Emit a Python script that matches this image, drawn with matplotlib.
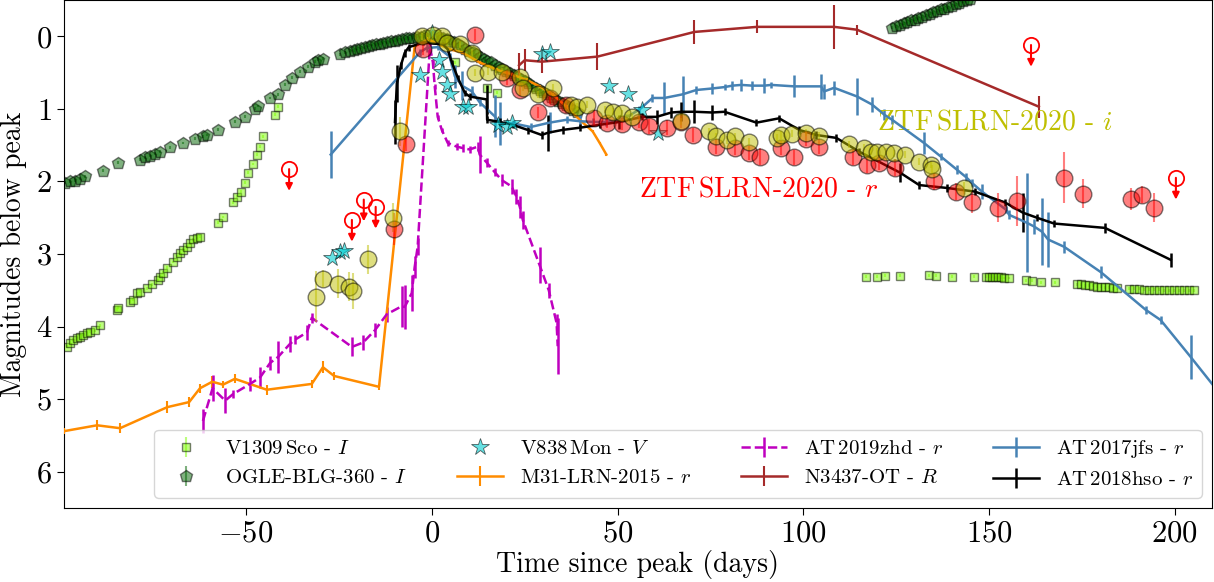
import numpy as np
import matplotlib.pyplot as plt

plt.rcParams['font.family'] = 'serif'
plt.rcParams['font.serif'] = ['cmr10']
plt.rcParams['mathtext.fontset'] = 'cm'
plt.rcParams['axes.formatter.use_mathtext'] = True

# ---------------- data (days since peak, mag below peak) ----------------
ogle_t = [-98.7, -97.3, -96.0, -94.6, -93.3, -88.4, -84.4, -78.5, -77.2, -75.8,
          -74.5, -73.1, -70.4, -66.9, -63.7, -61.6, -60.5, -57.5, -53.0, -50.3,
          -47.6, -46.8, -43.5, -41.4, -39.5, -37.6, -35.5, -33.3, -31.5, -30.6,
          -29.3, -24.7, -23.4,
          -22, -21, -20, -19, -18, -17, -16, -15, -14, -13, -12, -11, -10, -9,
          -8, -7, -6, -5, -4, -3, -2, -1, 0,
          1, 2, 3, 4, 5, 6, 7, 8, 9, 10, 11, 12, 13, 14, 15, 16, 17, 18, 19, 20,
          21, 22, 23, 24, 25, 26, 27, 28, 29, 30, 31, 32, 33, 34, 35, 36, 37, 38, 39,
          124, 125, 126, 127, 128, 129, 130, 131, 132, 133, 134, 135, 136, 137,
          138, 139, 140, 141, 142, 143, 144, 145]
ogle_m = [2.02, 2.00, 1.99, 1.96, 1.93, 1.85, 1.74, 1.70, 1.67, 1.65,
          1.62, 1.59, 1.53, 1.47, 1.41, 1.38, 1.36, 1.29, 1.18, 1.11,
          1.00, 0.96, 0.85, 0.80, 0.67, 0.57, 0.49, 0.42, 0.35, 0.32,
          0.31, 0.25, 0.22,
          0.20, 0.19, 0.17, 0.16, 0.15, 0.13, 0.12, 0.11, 0.10, 0.09, 0.08, 0.07,
          0.06, 0.05, 0.04, 0.03, 0.03, 0.02, 0.01, 0.01, 0.00, 0.00, 0.00,
          0.00, 0.01, 0.02, 0.04, 0.06, 0.08, 0.11, 0.14, 0.17, 0.20, 0.22, 0.25,
          0.28, 0.31, 0.34, 0.36, 0.39, 0.42, 0.45, 0.48, 0.50, 0.53, 0.56, 0.59,
          0.62, 0.65, 0.68, 0.71, 0.74, 0.77, 0.80, 0.83, 0.86, 0.89, 0.92, 0.95,
          0.98, 1.01, 1.04,
          -0.12, -0.14, -0.16, -0.18, -0.20, -0.22, -0.23, -0.25, -0.27, -0.29,
          -0.31, -0.33, -0.35, -0.37, -0.38, -0.40, -0.42, -0.44, -0.46, -0.48,
          -0.50, -0.52]

v1309_t = [-98.1, -97.3, -96.5, -95.4, -94.6, -93.8, -92.7, -91.9, -90.6, -89.2,
           -84.7, -84.4, -81.2, -80.4, -79.3, -78.5, -76.6, -75.3, -73.7, -73.1,
           -72.3, -71.2, -69.6, -68.5, -67.7, -66.9, -65.9, -65.1, -64.2, -63.2,
           -62.4, -57.5, -56.2, -53.5, -52.4, -51.3, -50.3, -49.5, -48.1, -47.0,
           -46.2, -45.4, -42.2, -41.4,
           6.2, 14.8, 17.5,
           116.9, 119.9, 122.0, 126.1, 133.9, 135.8, 140.1, 146.0,
           149.2, 150.0, 150.8, 151.6, 152.4, 153.2, 154.0, 155.4,
           159.9, 161.6, 164.0, 167.7,
           173.7, 174.7, 175.8, 176.9, 178.0, 179.0, 180.1, 181.2, 182.3, 183.3, 184.4,
           187.6, 189.0, 190.3, 191.7, 193.0, 194.4, 195.7, 197.1, 198.4, 199.8,
           201.1, 202.5, 203.8, 205.1]
v1309_m = [4.28, 4.22, 4.18, 4.16, 4.14, 4.11, 4.09, 4.07, 4.05, 3.98,
           3.77, 3.74, 3.66, 3.63, 3.54, 3.52, 3.47, 3.42, 3.36, 3.31,
           3.26, 3.19, 3.11, 3.04, 2.98, 2.94, 2.90, 2.85, 2.80, 2.78,
           2.76, 2.57, 2.49, 2.29, 2.21, 2.14, 2.02, 1.88, 1.76, 1.63,
           1.52, 1.38, 1.08, 0.97,
           0.36, 0.71, 0.78,
           3.31, 3.31, 3.30, 3.30, 3.29, 3.30, 3.31, 3.31,
           3.31, 3.31, 3.31, 3.32, 3.32, 3.32, 3.33, 3.33,
           3.36, 3.37, 3.39, 3.39,
           3.42, 3.42, 3.43, 3.43, 3.44, 3.45, 3.45, 3.46, 3.46, 3.47, 3.47,
           3.48, 3.48, 3.48, 3.49, 3.49, 3.49, 3.49, 3.50, 3.50, 3.50,
           3.50, 3.50, 3.50, 3.50]

v838_t = [-26.9, -24.7, -23.7, -3.2, 0.0, 1.9, 2.7, 4.0, 4.8, 8.3, 9.7, 17.7,
          20.2, 21.5, 29.8, 31.7, 47.8, 52.7, 56.7, 60.8]
v838_m = [3.05, 2.97, 2.96, 0.53, -0.05, 0.32, 0.49, 0.67, 0.79, 0.98, 0.97,
          1.22, 1.25, 1.20, 0.25, 0.22, 0.69, 0.80, 1.01, 1.33]

m31_t = [-98.9, -90.1, -83.9, -71.2, -65.3, -62.4, -59.1, -56.2, -53.0, -44.4,
         -32.3, -29.3, -26.3, -14.2, -4.6, -1.0, 4.8, 8.1, 12.9, 17.5, 21.8,
         25.5, 29.0, 32.5, 36.3, 39.8, 43.3, 45.2, 47.0]
m31_m = [5.44, 5.36, 5.40, 5.11, 5.04, 4.85, 4.76, 4.80, 4.72, 4.87,
         4.79, 4.56, 4.68, 4.83, 0.14, 0.04, 0.18, 0.22, 0.36, 0.46, 0.53,
         0.60, 0.69, 0.80, 0.97, 1.15, 1.31, 1.47, 1.63]
m31_e = [0.04, 0.07, 0.07, 0.08, 0.07, 0.06, 0.08, 0.05, 0.06, 0.07,
         0.06, 0.08, 0.05, 0.04, 0.03, 0.03, 0.02, 0.02, 0.02, 0.02, 0.02,
         0.02, 0.02, 0.02, 0.02, 0.02, 0.02, 0.02, 0.02]

zhd_t = [-61.6, -59.0, -55.6, -53.5, -48.9, -46.2, -43.5, -41.4, -38.2, -36.8,
         -33.6, -32.3, -21.5, -18.5, -15.3, -12.1, -8.1, -7.3, -5.4, -4.6,
         -3.8, -0.5, 0.3, 0.8, 1.6, 2.7, 4.3, 6.7, 8.3, 10.2, 12.4, 12.9,
         14.8, 16.9, 18.8, 21.5, 22.8, 23.7, 24.5, 29.0, 31.5, 33.6, 33.9]
zhd_m = [5.30, 4.85, 5.02, 4.93, 4.79, 4.70, 4.50, 4.42, 4.24, 4.18,
         4.08, 3.88, 4.28, 4.22, 4.05, 3.83, 3.72, 3.73, 3.54, 3.18,
         2.90, 0.14, 0.36, 0.69, 1.11, 1.29, 1.47, 1.52, 1.54, 1.56, 1.52, 1.63,
         1.74, 1.87, 1.98, 2.07, 2.21, 2.35, 2.53, 3.15, 3.50, 3.95, 4.27]
zhd_e = [0.17, 0.18, 0.17, 0.06, 0.10, 0.14, 0.10, 0.22, 0.11, 0.06,
         0.10, 0.07, 0.13, 0.10, 0.10, 0.10, 0.28, 0.30, 0.25, 0.15,
         0.12, 0.05, 0.03, 0.03, 0.03, 0.03, 0.04, 0.05, 0.05, 0.05, 0.06, 0.25,
         0.06, 0.06, 0.08, 0.10, 0.10, 0.15, 0.12, 0.25, 0.10, 0.12, 0.39]

n3437_t = [23.5, 25.0, 29.6, 44.6, 70.7, 87.6, 108.3, 114.5, 163.4]
n3437_m = [0.40, 0.33, 0.35, 0.28, -0.06, -0.13, -0.13, -0.09, 0.97]
n3437_e = [0.17, 0.15, 0.16, 0.19, 0.17, 0.09, 0.30, 0.07, 0.15]

jfs_t = [-27.2, -3.2, -1.3, 1.6, 4.8, 6.2, 8.1, 10.8, 12.9, 16.9, 18.3, 22.0,
         26.6, 31.7, 36.3, 39.8, 43.3, 47.0, 52.2, 55.9, 59.4, 62.6, 67.5,
         71.2, 75.3, 78.8, 80.9, 83.3, 86.3, 89.5, 91.4, 97.6, 104.8, 105.6,
         108.3, 114.5, 118.5, 121.8, 123.9, 132.5, 137.1, 141.4, 143.8, 145.4,
         148.1, 154.6, 155.4, 160.2, 162.1, 164.2, 165.9, 170.2, 180.1, 192.2,
         196.2, 204.3, 213.0]
jfs_m = [1.63, 0.22, 0.16, 0.15, 0.28, 0.55, 0.68, 0.76, 0.91, 1.10, 1.20, 1.20,
         1.25, 1.19, 1.15, 1.17, 1.18, 1.18, 1.12, 1.01, 0.85, 0.85, 0.80,
         0.74, 0.72, 0.70, 0.68, 0.67, 0.68, 0.68, 0.67, 0.69, 0.69, 0.76,
         0.71, 0.83, 0.94, 1.08, 1.15, 1.47, 1.66, 1.84, 1.94, 2.02,
         2.14, 2.39, 2.46, 2.57, 2.62, 2.69, 2.80, 2.90, 3.25, 3.77,
         3.91, 4.42, 4.98]
jfs_e = [0.32, 0.05, 0.05, 0.04, 0.05, 0.16, 0.20, 0.08, 0.05, 0.29, 0.30, 0.05,
         0.05, 0.14, 0.05, 0.08, 0.05, 0.05, 0.05, 0.05, 0.05, 0.22, 0.25,
         0.05, 0.07, 0.04, 0.06, 0.08, 0.06, 0.10, 0.04, 0.15, 0.17, 0.10,
         0.10, 0.25, 0.10, 0.08, 0.06, 0.15, 0.05, 0.06, 0.06, 0.05,
         0.10, 0.05, 0.06, 0.68, 0.10, 0.46, 0.38, 0.08, 0.08, 0.06,
         0.06, 0.30, 0.10]

hso_t = [-9.9, -9.4, -8.3, -7.3, -6.2, -2.4, 3.0, 4.3, 5.4, 7.0, 8.9, 10.2,
         14.8, 14.9, 18.3, 21.8, 25.8, 29.6, 31.2, 35.2, 39.8, 45.2, 50.5,
         56.7, 60.5, 64.5, 67.2, 70.7, 75.5, 78.8, 87.4, 93.5, 98.9, 103.5,
         108.9, 115.1, 126.1, 131.2, 138.7, 146.2, 154.3, 159.1, 162.9, 167.5,
         181.2, 198.9]
hso_m = [1.18, 0.65, 0.40, 0.23, 0.15, 0.09, 0.11, 0.18, 0.36, 0.57, 0.78, 0.83,
         0.87, 1.15, 1.18, 1.22, 1.29, 1.36, 1.33, 1.29, 1.26, 1.22, 1.18,
         1.11, 1.11, 1.05, 1.04, 1.04, 1.05, 1.04, 1.19, 1.13, 1.29, 1.36,
         1.40, 1.59, 1.88, 2.05, 2.09, 2.14, 2.29, 2.43, 2.50, 2.58,
         2.64, 3.08]
hso_e = [0.30, 0.25, 0.05, 0.05, 0.05, 0.03, 0.03, 0.03, 0.04, 0.04, 0.04, 0.05,
         0.20, 0.05, 0.05, 0.05, 0.05, 0.05, 0.25, 0.05, 0.05, 0.05, 0.10,
         0.05, 0.10, 0.07, 0.13, 0.16, 0.10, 0.05, 0.05, 0.05, 0.05, 0.05,
         0.05, 0.05, 0.13, 0.05, 0.05, 0.05, 0.05, 0.27, 0.05, 0.05,
         0.07, 0.10]

ztf_r_t = [-10.2, -6.9, -2.4, 11.6, 20.2, 23.7, 28.5, 31.7, 36.0, 43.8, 47.3,
           51.3, 55.9, 58.6, 63.4, 67.2, 70.3, 76.6, 81.5, 85.5, 88.4, 94.1,
           97.6, 100.8, 104.3, 113.5, 117.2, 120.4, 124.6, 135.2, 141.2, 145.4,
           152.3, 157.4, 170.3, 175.3, 188.3, 191.2, 194.5]
ztf_r_m = [2.65, 1.48, 0.18, -0.02, 0.57, 0.74, 1.05, 0.85, 0.95, 1.12, 1.19,
           1.21, 1.18, 1.24, 1.26, 1.18, 1.36, 1.52, 1.54, 1.61, 1.66, 1.54,
           1.67, 1.41, 1.52, 1.67, 1.77, 1.74, 1.81, 2.00, 2.14, 2.29,
           2.36, 2.27, 1.95, 2.17, 2.24, 2.18, 2.36]
ztf_r_e = [0.22, 0.10, 0.08, 0.08, 0.10, 0.08, 0.08, 0.08, 0.08, 0.10, 0.08,
           0.08, 0.08, 0.10, 0.10, 0.08, 0.10, 0.10, 0.10, 0.10, 0.12, 0.10,
           0.10, 0.10, 0.10, 0.10, 0.12, 0.10, 0.12, 0.12, 0.12, 0.15,
           0.20, 0.35, 0.35, 0.20, 0.15, 0.12, 0.20]

ztf_i_t = [-31.2, -29.3, -25.3, -22.3, -21.2, -17.2, -10.5, -8.6, -2.7, 0.3,
           2.7, 4.0, 7.5, 10.8, 11.6, 15.1, 18.8, 23.7, 24.5, 28.5, 32.5, 37.6,
           39.0, 41.9, 46.5, 48.7, 51.3, 53.8, 67.2, 74.7, 76.6, 79.6, 81.5,
           85.5, 93.0, 94.1, 97.0, 100.8, 104.3, 112.4, 116.4, 118.3, 119.9,
           122.3, 124.5, 127.4, 131.2, 134.4, 134.7, 143.3]
ztf_i_m = [3.59, 3.34, 3.41, 3.45, 3.51, 3.07, 2.50, 1.31, 0.00, -0.02,
           0.00, 0.09, 0.11, 0.23, 0.50, 0.49, 0.49, 0.56, 0.71, 0.80, 0.71, 0.94,
           0.97, 0.94, 1.01, 1.04, 1.06, 1.11, 1.17, 1.31, 1.38, 1.43, 1.38,
           1.45, 1.40, 1.36, 1.34, 1.33, 1.37, 1.49, 1.54, 1.59, 1.59,
           1.59, 1.61, 1.63, 1.73, 1.77, 1.83, 2.09]
ztf_i_e = [0.35, 0.12, 0.20, 0.20, 0.25, 0.20, 0.20, 0.20, 0.05, 0.05,
           0.05, 0.05, 0.05, 0.05, 0.05, 0.05, 0.05, 0.05, 0.05, 0.05, 0.05, 0.05,
           0.05, 0.05, 0.05, 0.05, 0.05, 0.05, 0.05, 0.05, 0.05, 0.05, 0.05,
           0.05, 0.05, 0.05, 0.05, 0.05, 0.05, 0.05, 0.05, 0.05, 0.05,
           0.05, 0.05, 0.05, 0.05, 0.05, 0.05, 0.08]

# ZTF r-band upper limits
ul_t = [-38.4, -21.5, -18.3, -15.1, 161.3, 200.3]
ul_m = [1.83, 2.53, 2.25, 2.35, 0.12, 1.95]

# ---------------- plot ----------------
fig = plt.figure(figsize=(12.14, 5.82), dpi=100)
ax = fig.add_axes([0.0527, 0.1271, 0.9456, 0.8729])

h_ogle = ax.errorbar(ogle_t, ogle_m, yerr=0.02, fmt='p', color='darkgreen', ms=9,
                     mec='k', alpha=0.5, zorder=1, label=r'OGLE-BLG-360 - $I$')
h_v1309 = ax.errorbar(v1309_t, v1309_m, yerr=0.02, fmt='s', color='lawngreen', ms=6,
                      mec='k', alpha=0.5, zorder=2, label=r'V1309$\,$Sco - $I$')

h_m31 = ax.errorbar(m31_t, m31_m, yerr=m31_e, fmt='-', color='darkorange', lw=1.8,
                    elinewidth=1.5, zorder=3, label=r'M31-LRN-2015 - $r$')
h_zhd = ax.errorbar(zhd_t, zhd_m, yerr=zhd_e, fmt='--', color='m', lw=1.8,
                    elinewidth=1.8, zorder=3, label=r'AT$\,$2019zhd - $r$')
h_n3437 = ax.errorbar(n3437_t, n3437_m, yerr=n3437_e, fmt='-', color='brown', lw=1.8,
                      elinewidth=1.5, zorder=3, label=r'N3437-OT - $R$')
h_jfs = ax.errorbar(jfs_t, jfs_m, yerr=jfs_e, fmt='-', color='steelblue', lw=1.8,
                    elinewidth=1.8, zorder=3, label=r'AT$\,$2017jfs - $r$')
h_hso = ax.errorbar(hso_t, hso_m, yerr=hso_e, fmt='-', color='k', lw=1.8,
                    elinewidth=1.8, zorder=3, label=r'AT$\,$2018hso - $r$')

h_v838, = ax.plot(v838_t, v838_m, '*', color='darkturquoise', ms=13, mec='k',
                  mew=0.6, alpha=0.6, zorder=4, label=r'V838$\,$Mon - $V$')

ax.errorbar(ztf_r_t, ztf_r_m, yerr=ztf_r_e, fmt='o', color='r', ms=12, mec='k',
            alpha=0.5, zorder=5)
ax.errorbar(ztf_i_t, ztf_i_m, yerr=ztf_i_e, fmt='o', color='y', ms=12, mec='k',
            alpha=0.5, zorder=5)

ax.plot(ul_t, ul_m, 'o', mfc='none', mec='r', ms=11, mew=1.3, zorder=6)
for t, m in zip(ul_t, ul_m):
    ax.annotate('', xy=(t, m + 0.3), xytext=(t, m),
                arrowprops=dict(arrowstyle='-|>', color='r', lw=1.5,
                                mutation_scale=10, shrinkA=0, shrinkB=0),
                zorder=6)

ax.text(55.9, 2.11, r'ZTF$\,$SLRN-2020 - $r$', color='r', fontsize=20, va='center')
ax.text(119.9, 1.18, r'ZTF$\,$SLRN-2020 - $i$', color='y', fontsize=20, va='center')

ax.set_xlim(-99, 210)
ax.set_ylim(6.5, -0.5)
ax.set_yticks([0, 1, 2, 3, 4, 5, 6])
ax.tick_params(labelsize=22, direction='out', length=5)
ax.set_xlabel('Time since peak (days)', fontsize=20, labelpad=2)
ax.set_ylabel('Magnitudes below peak', fontsize=20, labelpad=6)

handles = [h_v1309, h_ogle, h_v838, h_m31, h_zhd, h_n3437, h_jfs, h_hso]
ax.legend(handles=handles, loc='lower right', ncol=4, fontsize=15,
          columnspacing=2.4, handlelength=2.2, borderaxespad=0.5)

fig.savefig('out.png', dpi=100)
